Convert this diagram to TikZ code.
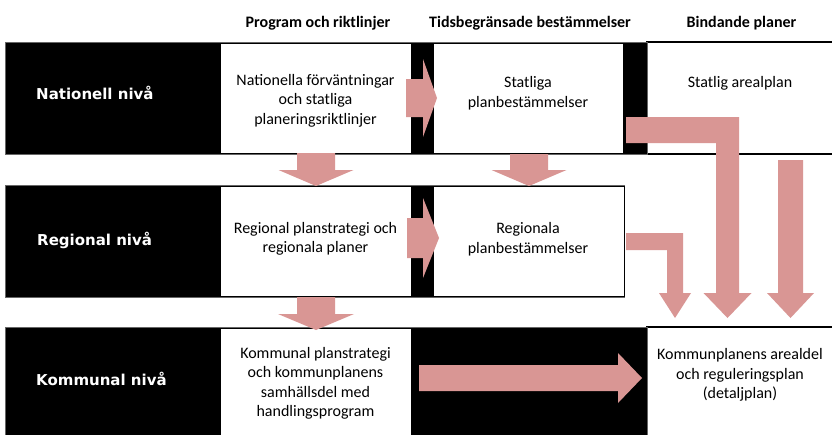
\documentclass[tikz,border=0pt]{standalone}
\usepackage{fontspec}
\setmainfont{Carlito}
\newfontfamily\lblfont{DejaVu Sans}
\definecolor{pk}{RGB}{217,150,148}
\newcommand\pkdown[6]{\fill[pinkarrow] (#1-#5,#2) -- (#1+#5,#2) -- (#1+#5,#3) -- (#1+#6,#3) -- (#1,#4) -- (#1-#6,#3) -- (#1-#5,#3) -- cycle;}
\newcommand\pkright[6]{\fill[pinkarrow] (#1,#4-#5) -- (#2,#4-#5) -- (#2,#4-#6) -- (#3,#4) -- (#2,#4+#6) -- (#2,#4+#5) -- (#1,#4+#5) -- cycle;}
\tikzset{
  band/.style={anchor=north west, fill=black, draw=black!60, line width=0.6pt, inner sep=0pt, outer sep=0pt},
  wbox/.style={anchor=north west, fill=white, draw=black, line width=0.9pt, inner sep=0pt, outer sep=0pt},
  edgebox/.style={anchor=north west, fill=white, draw=black, line width=1.6pt, inner sep=0pt, outer sep=0pt},
  pinkarrow/.style={fill=pk},
  body/.style={font=\fontsize{16}{19.5}\selectfont, align=center, text=black, inner sep=0pt},
  head/.style={font=\fontsize{16}{19.5}\selectfont\bfseries, anchor=base, inner sep=0pt},
  lbl/.style={font=\fontsize{15}{18}\selectfont\lblfont\bfseries, text=white, anchor=base west, inner sep=0pt}
}
\begin{document}
\begin{tikzpicture}[x=1pt,y=-1pt]
\useasboundingbox (0,0) rectangle (832,434);
\fill[white] (0,0) rectangle (832,434);
% headers
\node[head] (h1) at (318,27) {Program och riktlinjer};
\node[head] (h2) at (530,27) {Tidsbegränsade bestämmelser};
\node[head] (h3) at (741.5,27) {Bindande planer};
% row 1
\node[edgebox, minimum width=200, minimum height=112] (r1c3) at (647,42) {};
\node[band, minimum width=642, minimum height=112] (r1) at (5,42) {};
\node[wbox, minimum width=191, minimum height=110] (r1c1) at (220,43) {};
\node[wbox, minimum width=190, minimum height=110] (r1c2) at (433,43) {};
% row 2
\node[band, minimum width=619, minimum height=112] (r2) at (5,185) {};
\node[wbox, minimum width=191, minimum height=110] (r2c1) at (220,186) {};
\node[wbox, minimum width=191, minimum height=110] (r2c2) at (433,186) {};
% row 3
\node[edgebox, minimum width=200, minimum height=130] (r3c3) at (647,327) {};
\node[band, minimum width=642, minimum height=130] (r3) at (5,327) {};
\node[wbox, minimum width=191, minimum height=130] (r3c1) at (220,328) {};
% row labels
\node[lbl] (l1) at (36,99) {Nationell nivå};
\node[lbl] (l2) at (37,245) {Regional nivå};
\node[lbl] (l3) at (36,385) {Kommunal nivå};
% box texts
\node[body] (t11) at (315.5,100.5) {Nationella förväntningar\\och statliga\\planeringsriktlinjer};
\node[body] (t12) at (528,93) {Statliga\\planbestämmelser};
\node[body] (t13) at (740,83) {Statlig arealplan};
\node[body] (t21) at (315.5,239) {Regional planstrategi och\\regionala planer};
\node[body] (t22) at (528,239) {Regionala\\planbestämmelser};
\node[body] (t31) at (315.5,383.5) {Kommunal planstrategi\\och kommunplanens\\samhällsdel med\\handlingsprogram};
\node[body] (t33) at (740,375) {Kommunplanens arealdel\\och reguleringsplan\\(detaljplan)};
% arrows
\pkright{406}{423}{437}{98}{19}{39}
\pkright{407}{423}{439}{238}{20}{40}
\pkright{419}{618}{642}{378}{13}{25}
\pkdown{316}{153}{170}{186}{19}{37.5}
\pkdown{529}{154}{170}{186}{19}{37.5}
\pkdown{316}{297}{314}{330}{19}{38}
\fill[pinkarrow] (626,117) -- (739,117) -- (739,293) -- (751.5,293) -- (727.5,318) -- (703.5,293) -- (716,293) -- (716,143) -- (626,143) -- cycle;
\fill[pinkarrow] (626,233) -- (683,233) -- (683,293) -- (691,293) -- (675,318) -- (659,293) -- (667,293) -- (667,250) -- (626,250) -- cycle;
\pkdown{790.5}{160}{293}{318}{12.5}{23.5}
\end{tikzpicture}
\end{document}
